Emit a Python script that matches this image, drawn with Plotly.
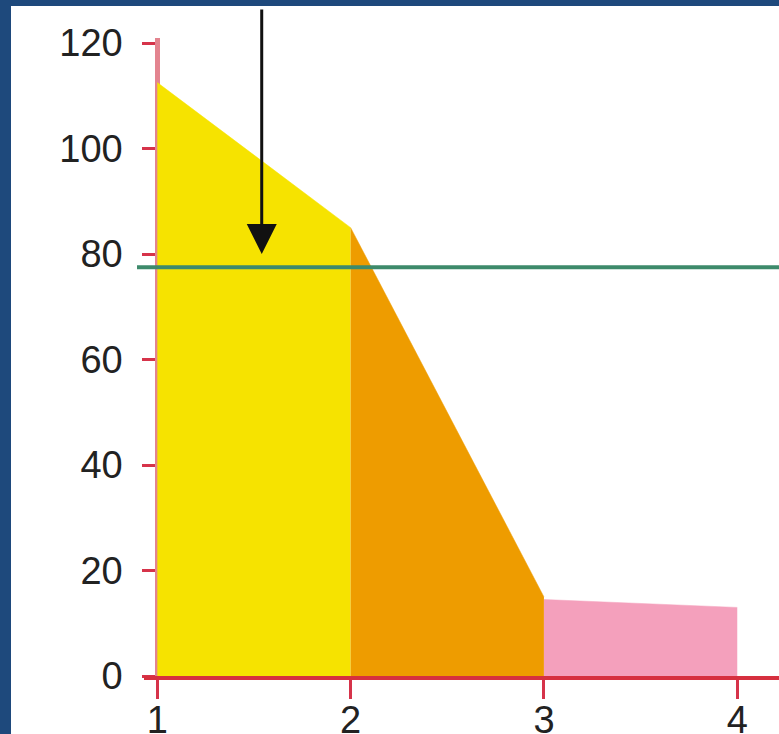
import plotly.graph_objects as go

# ---- data ----
seg_x = [[1, 2], [2, 3], [3, 4]]
seg_y = [[112.5, 85], [85, 15], [14.5, 13]]
seg_colors = ["#f6e300", "#ee9c00", "#f4a0bc"]
threshold = 77.5
arrow_x = 1.54
arrow_y = 80
x_ticks = [1, 2, 3, 4]
x_tick_labels = ["1", "2", "3", "4"]
y_ticks = [0, 20, 40, 60, 80, 100, 120]
y_tick_labels = ["0", "20", "40", "60", "80", "100", "120"]

X_RANGE = [0.931, 4.216]
Y_RANGE = [0, 120.95]

fig = go.Figure()
for xs, ys, c in zip(seg_x, seg_y, seg_colors):
    fig.add_trace(go.Scatter(x=xs, y=ys, mode="lines", fill="tozeroy",
                             fillcolor=c, line=dict(color=c, width=0.5),
                             hoverinfo="skip", showlegend=False))

# threshold line (extends slightly left of the plot area)
fig.add_shape(type="line", xref="paper", yref="y", x0=-0.011, x1=1,
              y0=threshold, y1=threshold, line=dict(color="#3d8a6b", width=4),
              layer="above")

# arrow
fig.add_annotation(x=arrow_x, y=arrow_y, ax=0, ay=-246, axref="pixel", ayref="pixel",
                   text="", showarrow=True, arrowhead=2, arrowsize=2, arrowwidth=3,
                   arrowcolor="#111111")

# dark blue frame (left and top)
fig.add_shape(type="rect", xref="paper", yref="paper", x0=-0.3, x1=-144/635 + 11/635,
              y0=-0.2, y1=1.2, line=dict(width=0), fillcolor="#1e497c", layer="above")
fig.add_shape(type="rect", xref="paper", yref="paper", x0=-0.3, x1=1.1,
              y0=1 + 32/638, y1=1.2, line=dict(width=0), fillcolor="#1e497c", layer="above")

tick_font = dict(family="Liberation Sans, Arial, sans-serif", size=38, color="#222222")

fig.update_layout(
    width=779, height=734,
    margin=dict(l=144, r=0, t=38, b=58, pad=0, autoexpand=False),
    paper_bgcolor="white", plot_bgcolor="white",
    showlegend=False,
    xaxis=dict(range=X_RANGE, tickvals=x_ticks, ticktext=x_tick_labels,
               showgrid=False, zeroline=False, showline=True, linecolor="#d6303f",
               linewidth=4, ticks="outside", ticklen=19, tickwidth=3, tickcolor="#d6334a",
               tickfont=tick_font, ticklabelstandoff=-12, layer="above traces",
               fixedrange=True, automargin=False),
    xaxis2=dict(range=X_RANGE, overlaying="x", tickvals=x_ticks, showticklabels=False,
                showgrid=False, zeroline=False, showline=False, ticks="inside",
                ticklen=11, tickwidth=3, tickcolor="#d6334a", anchor="y", side="bottom"),
    yaxis=dict(range=Y_RANGE, tickvals=y_ticks, ticktext=y_tick_labels,
               anchor="free", position=13.3 / 635,
               showgrid=False, zeroline=False, showline=True, linecolor="#e3848f",
               linewidth=5, ticks="outside", ticklen=13, tickwidth=3, tickcolor="#d6334a",
               tickfont=tick_font, ticklabelstandoff=12, layer="below traces",
               fixedrange=True, automargin=False),
    yaxis2=dict(range=Y_RANGE, overlaying="y", tickvals=y_ticks, showticklabels=False,
                anchor="free", position=13.3 / 635,
                showgrid=False, zeroline=False, showline=False, ticks="inside",
                ticklen=15, tickwidth=3, tickcolor="#d6334a"),
)

fig.write_html("out.html", config={"displayModeBar": False},
               post_script="document.body.style.margin='0';document.body.style.overflow='hidden';")
